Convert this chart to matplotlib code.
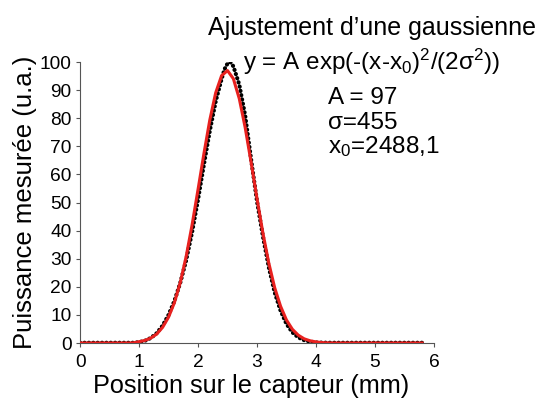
import numpy as np
import matplotlib
matplotlib.use('Agg')
import matplotlib.pyplot as plt

plt.rcParams['font.family'] = ['Liberation Sans', 'DejaVu Sans']
plt.rcParams['mathtext.fontset'] = 'custom'
plt.rcParams['mathtext.rm'] = 'Liberation Sans'
plt.rcParams['mathtext.it'] = 'Liberation Sans'

pos_mes = [0.0, 0.2, 0.4, 0.6, 0.8, 0.9, 1.0, 1.1, 1.2, 1.3, 1.4, 1.5, 1.6, 1.7, 1.8, 1.9,
           2.0, 2.1, 2.2, 2.3, 2.4, 2.45, 2.5, 2.55, 2.6, 2.7, 2.8, 2.9, 3.0, 3.1,
           3.2, 3.3, 3.4, 3.5, 3.6, 3.7, 3.8, 3.9, 4.0, 4.2, 4.5, 5.0, 5.5, 5.8]
puis_mes = [0.1, 0.1, 0.1, 0.1, 0.1, 0.1, 0.3, 0.8, 1.8, 3.5, 6.2, 10.0, 15.0, 21.5, 29.5, 39.5,
            51.0, 63.5, 75.5, 86.0, 94.0, 97.5, 99.5, 100.0, 98.5, 92.0, 81.0, 65.5, 50.5, 38.0,
            27.0, 18.0, 11.5, 6.8, 3.8, 2.0, 1.0, 0.5, 0.2, 0.1, 0.1, 0.1, 0.1, 0.1]

# fitted gaussian (A=97, sigma=455 um, x0=2488.1 um), sampled every 0.1 mm
pos_fit = [round(0.1 * i, 1) for i in range(59)]
puis_fit = [0.0, 0.0, 0.0, 0.0, 0.0, 0.0, 0.0, 0.0, 0.0, 0.05, 0.46, 0.93, 1.76, 3.2, 5.6,
            9.2, 14.4, 21.6, 30.9, 42.1, 54.6, 67.4, 79.4, 89.1, 95.2, 97.0, 94.1, 87.0,
            76.7, 64.4, 51.5, 39.2, 28.5, 19.7, 13.1, 8.2, 4.9, 2.8, 1.5, 0.8, 0.4, 0.15,
            0.05, 0.0, 0.0, 0.0, 0.0, 0.0, 0.0, 0.0, 0.0, 0.0, 0.0, 0.0, 0.0, 0.0, 0.0, 0.0, 0.0]

xticks = [0, 1, 2, 3, 4, 5, 6]
yticks = list(range(0, 101, 10))

fig = plt.figure(figsize=(5.41, 4.01), dpi=100)
ax = fig.add_axes([0.148, 0.1446, 0.654, 0.7004])

ax.plot(pos_mes, puis_mes, color='black', linewidth=3.0, linestyle=(0, (0.05, 1.0)),
        dash_capstyle='round', zorder=2)
ax.plot(pos_fit, puis_fit, color='#e8211f', linewidth=2.2, zorder=3)

ax.set_xlim(0, 6)
ax.set_ylim(0, 100)
ax.set_xticks(xticks)
ax.set_yticks(yticks)
ax.tick_params(direction='out', length=3, width=0.8, color='#555555', labelsize=13.8)
ax.tick_params(axis='x', pad=5)
ax.tick_params(axis='y', pad=3)
for s in ['top', 'right']:
    ax.spines[s].set_visible(False)
for s in ['left', 'bottom']:
    ax.spines[s].set_color('#555555')
    ax.spines[s].set_linewidth(0.8)

ax.set_xlabel('Position sur le capteur (mm)', fontsize=18.2)
ax.xaxis.set_label_coords(0.483, -0.112)
ax.set_ylabel('Puissance mesurée (u.a.)', fontsize=18.5, labelpad=2)

fig.text(0.384, 0.930, 'Ajustement d’une gaussienne', fontsize=18, ha='left', va='center')
fig.text(0.449, 0.845, r'y = A exp(-(x-x$_0$)$^2$/(2σ$^2$))', fontsize=17.5, ha='left', va='center')
fig.text(0.606, 0.756, 'A = 97', fontsize=17.5, ha='left', va='center')
fig.text(0.606, 0.694, 'σ=455', fontsize=17.5, ha='left', va='center')
fig.text(0.606, 0.634, r'x$_0$=2488,1', fontsize=17.5, ha='left', va='center')

fig.savefig('out.png', dpi=100)
